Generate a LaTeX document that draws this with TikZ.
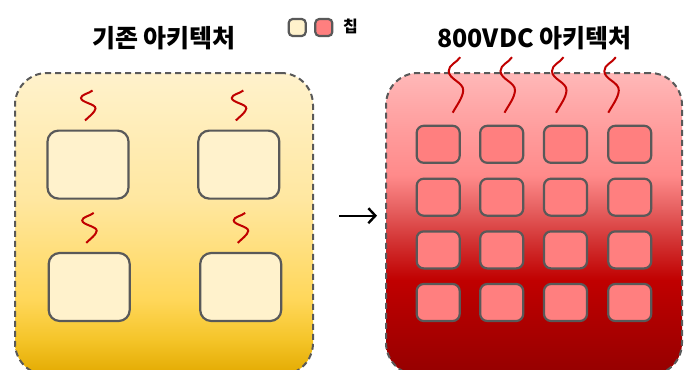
\documentclass[tikz,border=0pt]{standalone}
\usepackage{fontspec}
\newfontfamily\kr{Noto Sans CJK KR}
\usetikzlibrary{arrows.meta}
\definecolor{bord}{HTML}{595959}
\definecolor{cream}{HTML}{FFF2CC}
\definecolor{pinkchip}{HTML}{FF7F7F}
\definecolor{heatc}{HTML}{C00000}
\definecolor{g0}{HTML}{FFF2CC}
\definecolor{g1}{HTML}{FFE7A0}
\definecolor{g2}{HTML}{FFD75A}
\definecolor{g3}{HTML}{F5C52A}
\definecolor{g4}{HTML}{E3AA00}
\definecolor{r0}{HTML}{FFB8B8}
\definecolor{r1}{HTML}{FF9C9C}
\definecolor{r2}{HTML}{FF8A8A}
\definecolor{r3}{HTML}{E86464}
\definecolor{r4}{HTML}{D23232}
\definecolor{r5}{HTML}{C00000}
\definecolor{r6}{HTML}{950000}
\pgfdeclareverticalshading{goldsh}{100bp}{color(0bp)=(g4); color(25bp)=(g4); color(31bp)=(g3); color(37.5bp)=(g2); color(54bp)=(g1); color(75bp)=(g0); color(100bp)=(g0)}
\pgfdeclareverticalshading{redsh}{100bp}{color(0bp)=(r6); color(25bp)=(r6); color(40.7bp)=(r5); color(47bp)=(r4); color(53bp)=(r3); color(58bp)=(r2); color(65.5bp)=(r1); color(75bp)=(r0); color(100bp)=(r0)}
\begin{document}
\begin{tikzpicture}[x=1pt,y=-1pt,
  box/.style={draw=bord, line width=2pt, dash pattern=on 6pt off 4pt, rounded corners=32pt, inner sep=0pt},
  chipL/.style={draw=bord, line width=2.2pt, fill=cream, rounded corners=11pt, minimum width=81pt, minimum height=68pt, inner sep=0pt},
  chipR/.style={draw=bord, line width=2.2pt, fill=pinkchip, rounded corners=7pt, minimum width=43pt, minimum height=37pt, inner sep=0pt},
  legbox/.style={draw=bord, line width=2.2pt, rounded corners=4pt, minimum width=17pt, minimum height=17pt, inner sep=0pt},
  title/.style={font=\kr\bfseries\fontsize{25}{29}\selectfont, inner sep=0pt},
  heatline/.style={draw=heatc, line width=2pt},
  heat/.pic={\draw[heatline] (0,0) .. controls (4,-4) and (10,-8) .. (10.5,-12) .. controls (11,-16.5) and (-4,-18) .. (-4,-22.5) .. controls (-4,-26) and (4,-27) .. (7.5,-30);},
]
\useasboundingbox (0,0) rectangle (684,369);
% containers
\node[box, shade, shading=goldsh, minimum width=298pt, minimum height=302pt] (lc) at (164,224) {};
\node[box, shade, shading=redsh, minimum width=296pt, minimum height=302pt] (rc) at (534,224) {};
% titles
\node[title] (t1) at (164,38.5) {기존 아키텍처};
\node[title] (t2) at (534.5,38.5) {800VDC 아키텍처};
% legend
\node[legbox, fill=cream] (k1) at (297.2,27.5) {};
\node[legbox, fill=pinkchip] (k2) at (323.8,27.5) {};
\node[font=\kr\bfseries\fontsize{16}{18}\selectfont, inner sep=0pt] (k3) at (350.5,26) {칩};
% left chips
\node[chipL] (l1) at (88,164.6) {};
\node[chipL] (l2) at (238.8,164.6) {};
\node[chipL] (l3) at (89.2,287) {};
\node[chipL] (l4) at (240.7,287) {};
\foreach \n in {l1,l2,l3,l4} \path (\n.north) ++(-3,-9) pic {heat};
% right chips
\foreach \c [count=\i] in {438.2,501.7,565.5,629.7}
  \foreach \r [count=\j] in {144.3,197.2,249.9,302.5}
    \node[chipR] (r\j\i) at (\c,\r) {};
\foreach \x in {452.7,504.5,556,608.3} \pic[yscale=1.85] at (\x,112.7) {heat};
% arrow
\coordinate (a1) at (339,215.7);
\coordinate (a2) at (377,215.7);
\draw[line width=2.4pt, -{Straight Barb[length=7pt,width=15pt]}] (a1) -- (a2);
\end{tikzpicture}
\end{document}
